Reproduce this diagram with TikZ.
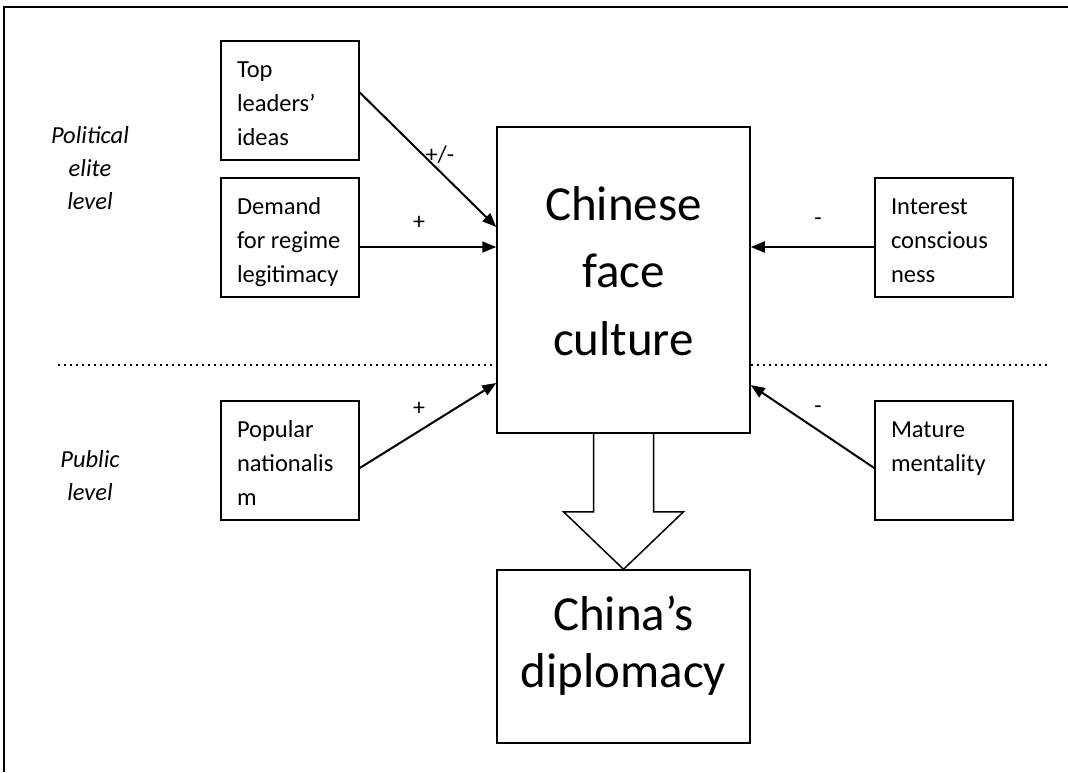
\documentclass[tikz,border=0pt]{standalone}
\usepackage{fontspec}
\setmainfont{Carlito}
\usetikzlibrary{arrows.meta,calc}
\newcommand\boxtxt[1]{\parbox[c][119pt][t]{106pt}{\raggedright\fontsize{24.5}{34}\selectfont\rule{0pt}{36pt}#1}}
\begin{document}
\begin{tikzpicture}[x=1pt,y=-1pt,
 sbox/.style={draw, line width=1.5pt, inner sep=0pt, minimum width=138pt, minimum height=119pt},
 bbox/.style={draw, line width=1.5pt, inner sep=0pt},
 conn/.style={line width=2pt, -{Triangle[length=14pt,width=11pt]}},
 sign/.style={font=\fontsize{24}{28}\selectfont, inner sep=0pt},
 lvl/.style={inner sep=0pt, anchor=base},
 dotline/.style={line width=2.2pt, dash pattern=on 2pt off 4pt},
 bigarrow/.style={line width=1.5pt, line join=miter}
]
\useasboundingbox (0,0) rectangle (1068,772);
\draw[line width=2pt] (4,772) -- (4,7) -- (1068,7);

\node[sbox] (top) at (290,100.5) {\boxtxt{Top\\leaders’\\ideas}};
\node[sbox] (dem) at (290,237.5) {\boxtxt{Demand\\for regime\\legitimacy}};
\node[sbox] (pop) at (290,460.5) {\boxtxt{Popular\\nationalis\\m}};
\node[sbox] (int) at (944,237.5) {\boxtxt{Interest\\conscious\\ness}};
\node[sbox] (mat) at (944,460.5) {\boxtxt{Mature\\mentality}};

\node[bbox, minimum width=253pt, minimum height=306pt] (face) at (623.5,280)
  {\parbox[c][306pt][t]{253pt}{\centering\fontsize{49}{67.5}\selectfont\rule{0pt}{93pt}Chinese\\face\\culture}};
\node[bbox, minimum width=253pt, minimum height=173pt] (dip) at (623.5,656.5)
  {\parbox[c][173pt][t]{253pt}{\centering\fontsize{49}{57}\selectfont\rule{0pt}{60pt}China’s\\diplomacy}};

\node[lvl] (pel) at (90,143) {\parbox[t]{120pt}{\centering\itshape\fontsize{24.5}{33}\selectfont Political\\elite\\level}};
\node[lvl] (pul) at (90,467) {\parbox[t]{120pt}{\centering\itshape\fontsize{24.5}{33}\selectfont Public\\level}};

\draw[dotline] (58,365) -- (face.west |- 0,365);
\draw[dotline] (face.east |- 0,365) -- (1050,365);

\draw[conn] ([yshift=8pt]top.east) -- ([yshift=53pt]face.west);
\draw[conn] ([yshift=-9.5pt]dem.east) -- ([yshift=33pt]face.west);
\draw[conn] ([yshift=-7.5pt]pop.east) -- ([yshift=-103pt]face.west);
\draw[conn] ([yshift=-9.5pt]int.west) -- ([yshift=33pt]face.east);
\draw[conn] ([yshift=-7.5pt]mat.west) -- ([yshift=-105pt]face.east);

\node[sign] (s1) at (440,155) {+/-};
\node[sign] (s2) at (419,223) {+};
\node[sign] (s3) at (419,409) {+};
\node[sign] (s4) at (818,222) {-};
\node[sign] (s5) at (818,410) {-};

\draw[bigarrow] ($(face.south)+(-30,0)$) -- ($(face.south)+(-30,78)$) -- ($(face.south)+(-60,78)$) -- (dip.north) -- ($(face.south)+(60,78)$) -- ($(face.south)+(30,78)$) -- ($(face.south)+(30,0)$);
\end{tikzpicture}
\end{document}
